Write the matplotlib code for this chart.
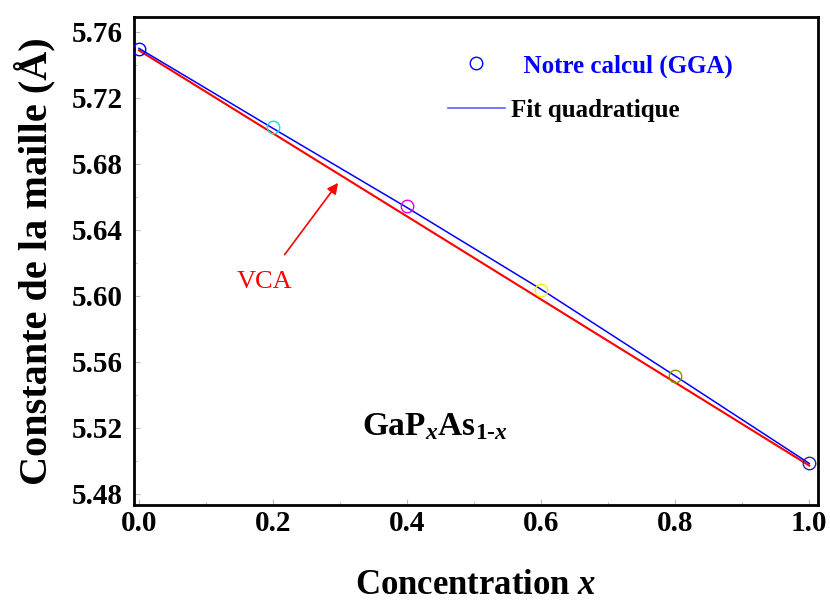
import matplotlib
matplotlib.use("Agg")
import matplotlib.pyplot as plt
from matplotlib.lines import Line2D

# -----------------------------------------------------------------------------
# DATA
# -----------------------------------------------------------------------------
conc_x   = [0.0, 0.2, 0.4, 0.6, 0.8, 1.0]
latt_gga = [5.7497, 5.7022, 5.6545, 5.6035, 5.5512, 5.4990]
pt_colors = ["#0000FF", "#00E5E5", "#E000E0", "#F5F500", "#8C8C00", "#2828A8"]

fit_x = [0.0, 0.2, 0.4, 0.6, 0.8, 1.0]
fit_y = [5.7500, 5.7015, 5.6535, 5.6040, 5.5515, 5.4985]

vca_x = [0.0, 1.0]
vca_y = [5.7488, 5.4972]

x_ticks = [0.0, 0.2, 0.4, 0.6, 0.8, 1.0]
y_ticks = [5.48, 5.52, 5.56, 5.60, 5.64, 5.68, 5.72, 5.76]

# -----------------------------------------------------------------------------
# STYLE
# -----------------------------------------------------------------------------
plt.rcParams["font.family"] = ["Liberation Serif", "DejaVu Serif"]
plt.rcParams["font.weight"] = "bold"
plt.rcParams["mathtext.fontset"] = "custom"
plt.rcParams["mathtext.rm"] = "Liberation Serif:bold"
plt.rcParams["mathtext.it"] = "Liberation Serif:bold:italic"
plt.rcParams["mathtext.bf"] = "Liberation Serif:bold"

fig = plt.figure(figsize=(8.30, 6.03), dpi=100)
ax = fig.add_axes([0.1614, 0.1625, 0.8241, 0.8093])

# --- lines ---
ax.plot(vca_x, vca_y, color="#FF0000", linewidth=1.5, zorder=2)
ax.plot(fit_x, fit_y, color="#0000FF", linewidth=1.1, zorder=3)

# --- data points, one colour each ---
for xi, yi, c in zip(conc_x, latt_gga, pt_colors):
    ax.plot(xi, yi, marker="o", markersize=9, markerfacecolor="none",
            markeredgecolor=c, markeredgewidth=1.0, linestyle="none", zorder=4)

# --- axes ---
ax.set_xlim(-0.0075, 1.013)
ax.set_ylim(5.4733, 5.769)
ax.set_xticks(x_ticks)
ax.set_yticks(y_ticks)
ax.set_xticklabels([f"{v:.1f}" for v in x_ticks])
ax.set_yticklabels([f"{v:.2f}" for v in y_ticks])
ax.set_xticks([0.1, 0.3, 0.5, 0.7, 0.9], minor=True)
ax.set_yticks([5.50, 5.54, 5.58, 5.62, 5.66, 5.70, 5.74], minor=True)
ax.tick_params(which="both", direction="in", color="#bbbbbb", width=0.8)
ax.tick_params(which="major", length=4, labelsize=21)
ax.tick_params(axis="x", which="major", pad=3.5)
ax.tick_params(axis="y", which="major", pad=8)
ax.tick_params(which="minor", length=2)
for lab in ax.get_xticklabels() + ax.get_yticklabels():
    lab.set_fontweight("bold")
for sp in ax.spines.values():
    sp.set_linewidth(2.0)
    sp.set_color("black")

ax.set_xlabel("Concentration $x$", fontsize=25, fontweight="bold", labelpad=23)
ax.set_ylabel("Constante de la maille (Å)", fontsize=29, fontweight="bold", labelpad=12)

# --- annotations ---
ax.annotate("VCA", xy=(0.297, 5.6685), xytext=(0.187, 5.6085),
            color="#FF0000", fontsize=19, fontweight="normal",
            ha="center", va="center",
            arrowprops=dict(arrowstyle="-|>", color="#FF0000", lw=1.2,
                            mutation_scale=16, shrinkA=12, shrinkB=0))
ax.text(0.333, 5.521, r"GaP$_{x}$As$_{1\text{-}x}$", fontsize=24,
        fontweight="bold", ha="left", va="center")

# --- legend ---
handles = [
    Line2D([], [], marker="o", markersize=9, markerfacecolor="none",
           markeredgecolor="#0000FF", markeredgewidth=1.0, linestyle="none"),
    Line2D([], [], color="#6060FF", linewidth=1.2),
]
leg = ax.legend(handles, ["  Notre calcul (GGA)", "Fit quadratique"],
                loc="upper left", bbox_to_anchor=(0.459, 0.924), frameon=False,
                borderpad=0, borderaxespad=0,
                prop={"size": 18, "weight": "bold"},
                handlelength=2.28, handletextpad=0.24, labelspacing=0.86)
leg.get_texts()[0].set_color("#0000FF")
leg.get_texts()[1].set_color("black")

fig.savefig("out.png", dpi=100)
